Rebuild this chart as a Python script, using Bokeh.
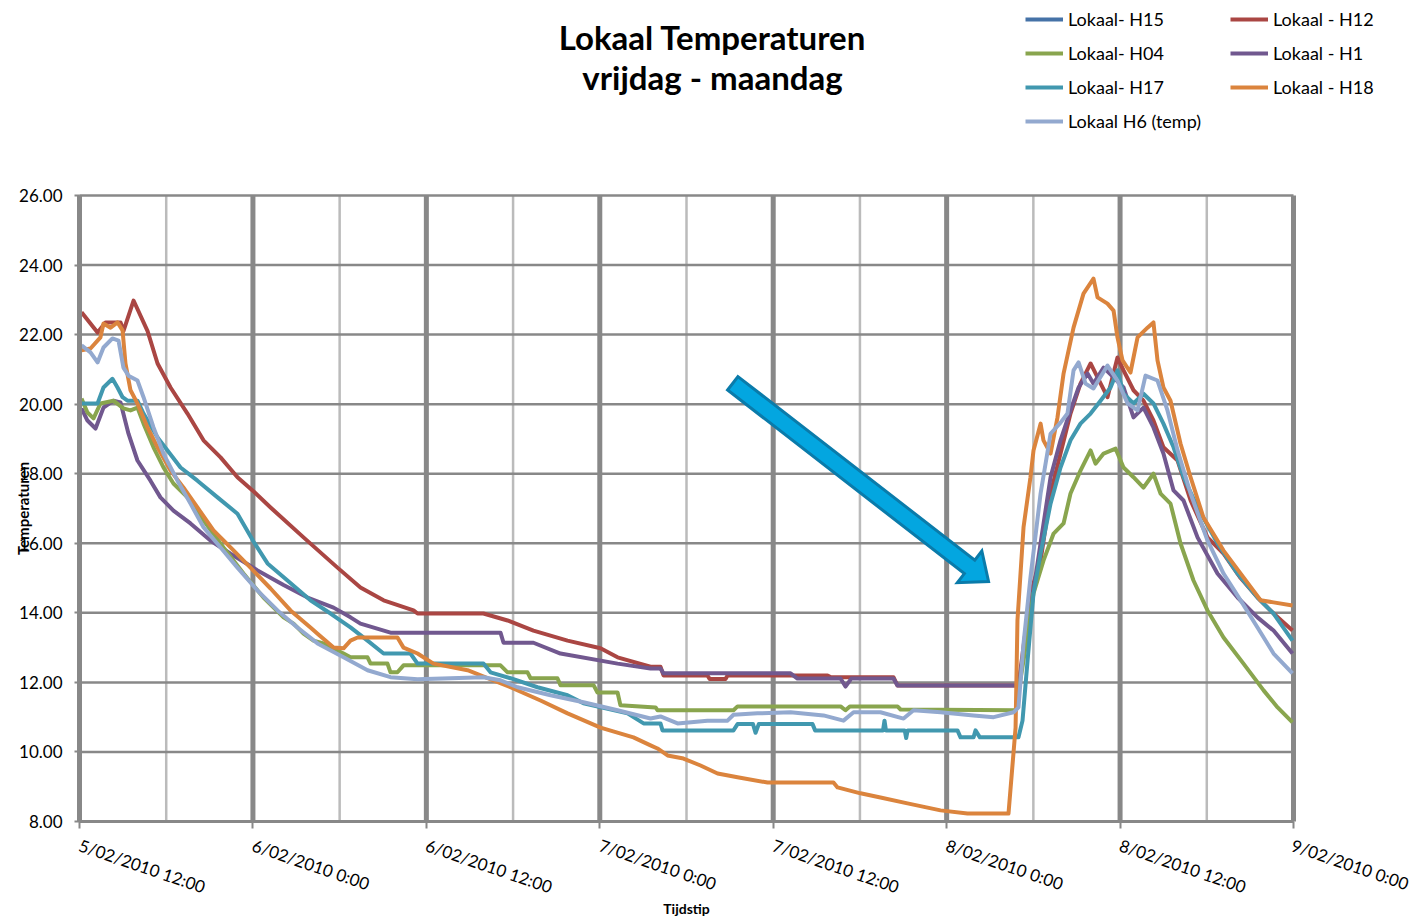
import math
from bokeh.plotting import figure
from bokeh.models import Range1d, FixedTicker, Label, Legend, LegendItem, NumeralTickFormatter
from bokeh.embed import file_html
from bokeh.resources import INLINE

# ---------------- data (x = hours since 5/02/2010 12:00) ----------------
TICK_HOURS = [0, 12, 24, 36, 48, 60, 72, 84]
TICK_LABELS = ["5/02/2010 12:00", "6/02/2010 0:00", "6/02/2010 12:00", "7/02/2010 0:00",
               "7/02/2010 12:00", "8/02/2010 0:00", "8/02/2010 12:00", "9/02/2010 0:00"]
MINOR_HOURS = [6, 18, 30, 42, 54, 66, 78]
Y_TICKS = [8, 10, 12, 14, 16, 18, 20, 22, 24, 26]

# H15 is listed in the legend but no line of it is visible in the chart
h15_t = [0.0]
h15_v = [float("nan")]

h12_t = [0.14, 1.25, 1.8, 2.84, 3.04, 3.74, 4.71, 5.4, 6.3, 7.47, 8.58, 9.76, 10.93, 11.97,
         13.22, 15.5, 17.85, 19.44, 21.04, 23.11, 23.39, 27.95, 29.62, 31.41, 33.77, 36.05,
         37.23, 39.51, 40.2, 40.41, 43.45, 43.6, 44.7, 44.84, 51.76, 52.0, 56.32, 56.6, 64.97,
         65.8, 66.5, 67.19, 67.88, 68.57, 69.26, 69.96, 70.44, 71.13, 71.82, 72.24, 72.93,
         73.62, 74.31, 75.0, 75.98, 76.88, 78.05, 79.16, 80.34, 81.51, 82.62, 83.93]
h12_v = [22.64, 22.06, 22.35, 22.35, 22.1, 22.98, 22.1, 21.17, 20.48, 19.73, 18.96, 18.47, 17.9, 17.52,
         17.03, 16.17, 15.3, 14.73, 14.36, 14.07, 13.98, 13.98, 13.78, 13.49, 13.2, 12.98,
         12.72, 12.45, 12.45, 12.2, 12.2, 12.1, 12.1, 12.2, 12.2, 12.15, 12.15, 11.91, 11.91,
         14.56, 15.5, 17.43, 18.58, 19.73, 20.59, 21.17, 20.77, 20.2, 21.34, 20.97, 20.4,
         20.1, 19.53, 18.76, 18.38, 17.23, 16.17, 15.7, 15.0, 14.44, 13.98, 13.49]

h04_t = [0.14, 0.55, 0.97, 1.45, 2.35, 3.04, 3.53, 4.01, 4.43, 5.12, 5.81, 6.5, 7.47, 8.58, 9.96,
         11.35, 12.73, 14.12, 14.81, 15.5, 16.19, 16.88, 18.27, 18.75, 19.93, 20.14, 21.31, 21.52,
         22.0, 22.42, 29.13, 29.62, 31.0, 31.21, 33.07, 33.28, 35.57, 35.84, 37.23, 37.43, 39.86,
         39.99, 45.25, 45.53, 52.66, 53.0, 53.3, 56.6, 56.81, 64.77, 65.32, 66.01, 66.7, 67.4,
         68.09, 68.57, 69.26, 69.96, 70.3, 70.86, 71.69, 72.24, 72.93, 73.62, 74.31, 74.8, 75.49,
         76.18, 77.08, 78.05, 79.16, 80.54, 81.93, 82.9, 83.93]
h04_v = [20.16, 19.76, 19.59, 20.02, 20.1, 19.88, 19.82, 19.9, 19.44, 18.76, 18.18, 17.72, 17.32, 16.66, 15.88,
         15.13, 14.44, 13.87, 13.69, 13.4, 13.2, 13.12, 12.83, 12.72, 12.72, 12.54, 12.54, 12.29,
         12.29, 12.49, 12.49, 12.29, 12.29, 12.12, 12.12, 11.92, 11.92, 11.71, 11.71, 11.34, 11.28,
         11.2, 11.2, 11.31, 11.31, 11.2, 11.31, 11.31, 11.22, 11.2, 12.63, 14.56, 15.5, 16.28,
         16.57, 17.43, 18.09, 18.67, 18.29, 18.58, 18.72, 18.18, 17.9, 17.6, 18.0, 17.43, 17.14,
         16.0, 14.93, 14.07, 13.29, 12.54, 11.77, 11.28, 10.85]

h1_t = [0.14, 0.55, 1.11, 1.66, 2.35, 2.84, 3.39, 4.01, 4.91, 5.6, 6.5, 7.68, 9.06, 10.45, 12.32,
        14.12, 15.78, 17.58, 18.75, 19.44, 21.52, 29.13, 29.34, 31.41, 33.28, 37.23, 39.51, 40.2,
        40.41, 49.2, 49.68, 52.66, 53.0, 53.4, 56.32, 56.6, 64.97, 65.8, 66.5, 67.19, 67.88,
        68.57, 69.13, 69.75, 70.16, 70.86, 71.55, 72.24, 72.93, 73.62, 74.31, 75.0, 75.7, 76.39,
        77.36, 78.74, 80.13, 81.51, 82.62, 83.93]
h1_v = [19.88, 19.53, 19.3, 19.9, 20.1, 20.05, 19.15, 18.38, 17.8, 17.32, 16.94, 16.57, 16.08, 15.7, 15.22,
        14.8, 14.44, 14.15, 13.87, 13.69, 13.43, 13.43, 13.14, 13.14, 12.83, 12.54, 12.4, 12.4,
        12.26, 12.26, 12.11, 12.11, 11.88, 12.11, 12.11, 11.91, 11.91, 14.07, 16.0, 17.9, 18.96,
        19.82, 20.48, 20.88, 20.59, 21.05, 20.77, 20.48, 19.62, 19.9, 19.33, 18.58, 17.52, 17.23,
        16.17, 15.13, 14.44, 13.87, 13.49, 12.83]

h17_t = [0.14, 1.25, 1.66, 2.28, 2.63, 2.98, 3.32, 4.01, 4.43, 5.4, 6.09, 6.99, 8.16, 9.55, 10.93,
         12.04, 13.01, 14.39, 15.98, 17.37, 18.75, 19.93, 21.04, 22.9, 23.39, 27.95, 28.44, 29.82,
         31.69, 33.77, 34.87, 37.92, 39.03, 40.2, 40.34, 45.25, 45.53, 46.6, 46.78, 47.0, 47.12,
         50.72, 50.9, 55.6, 55.7, 55.8, 57.1, 57.2, 57.3, 60.75, 60.96, 61.86, 62.0, 62.3, 64.97,
         65.25, 65.6, 66.01, 66.5, 67.19, 67.88, 68.57, 69.26, 69.96, 70.65, 71.34, 71.82, 72.24,
         72.93, 73.62, 74.31, 75.0, 75.7, 76.39, 77.36, 78.74, 80.13, 81.51, 82.62, 83.93]
h17_v = [20.02, 20.02, 20.48, 20.73, 20.48, 20.2, 20.1, 20.1, 19.73, 19.04, 18.67, 18.18, 17.8, 17.32, 16.85,
         16.05, 15.42, 14.93, 14.36, 13.98, 13.58, 13.2, 12.83, 12.83, 12.54, 12.54, 12.29, 12.12,
         11.86, 11.63, 11.4, 11.11, 10.82, 10.82, 10.62, 10.62, 10.8, 10.8, 10.55, 10.8, 10.8,
         10.8, 10.62, 10.62, 10.9, 10.62, 10.62, 10.4, 10.62, 10.62, 10.42, 10.42, 10.62, 10.42, 10.42,
         10.9, 12.63, 14.56, 15.7, 17.14, 18.18, 18.96, 19.44, 19.73, 20.1, 20.48, 20.97, 20.3,
         20.02, 20.3, 20.02, 19.44, 18.76, 17.9, 17.03, 16.0, 15.13, 14.44, 13.98, 13.2]

h18_t = [0.14, 0.76, 1.45, 1.66, 2.15, 2.63, 2.98, 3.18, 3.53, 4.01, 4.71, 5.4, 6.3, 7.2, 8.16, 9.27,
         10.45, 11.83, 13.22, 14.6, 15.98, 16.47, 17.58, 18.27, 18.75, 19.24, 22.0, 22.42, 23.39,
         24.49, 26.85, 29.82, 31.9, 33.77, 36.05, 38.33, 39.51, 39.99, 40.69, 41.79, 42.97, 44.15,
         45.53, 47.61, 52.17, 52.45, 54.04, 55.42, 57.29, 59.58, 61.44, 64.28, 64.77, 64.9, 65.32,
         65.8, 66.01, 66.5, 66.7, 67.19, 67.67, 68.09, 68.78, 69.47, 70.16, 70.44, 71.13, 71.55,
         71.82, 72.17, 72.72, 73.21, 73.9, 74.31, 74.59, 75.0, 75.49, 76.18, 76.88, 77.77, 79.16,
         80.54, 81.72, 82.62, 83.93]
h18_v = [21.55, 21.6, 21.92, 22.32, 22.2, 22.35, 22.12, 21.17, 20.4, 20.02, 19.33, 18.76, 18.09, 17.6, 17.03, 16.37,
         15.88, 15.3, 14.7, 14.07, 13.58, 13.4, 13.0, 12.98, 13.2, 13.29, 13.29, 13.0, 12.83,
         12.54, 12.35, 11.86, 11.48, 11.11, 10.7, 10.42, 10.19, 10.1, 9.9, 9.81, 9.61, 9.38,
         9.27, 9.12, 9.12, 8.98, 8.81, 8.69, 8.52, 8.32, 8.23, 8.23, 10.7, 13.78, 16.46,
         17.9, 18.67, 19.44, 18.96, 18.58, 19.62, 20.88, 22.2, 23.18, 23.61, 23.07, 22.89, 22.69,
         21.92, 21.26, 20.91, 21.92, 22.2, 22.35, 21.26, 20.48, 20.1, 18.87, 17.9, 16.74, 15.79,
         15.02, 14.36, 14.3, 14.21]

h6_t = [0.14, 0.76, 1.25, 1.66, 2.28, 2.7, 3.04, 3.39, 4.01, 4.43, 5.12, 5.81, 6.78, 7.68, 8.58, 9.76,
        10.93, 12.32, 13.7, 15.08, 16.47, 18.27, 19.93, 21.52, 23.39, 25.67, 27.95, 29.13, 30.31,
        32.59, 34.87, 37.23, 39.51, 40.2, 41.38, 43.45, 44.84, 45.25, 46.91, 49.2, 51.48, 52.86,
        53.56, 55.42, 57.02, 57.71, 59.58, 61.86, 63.25, 64.63, 64.97, 65.32, 65.8, 66.5, 67.19,
        67.88, 68.36, 68.78, 69.13, 69.61, 70.16, 71.13, 71.82, 72.52, 73.21, 73.76, 74.59, 75.28,
        75.98, 76.88, 78.05, 79.16, 80.34, 81.51, 82.62, 83.93]
h6_v = [21.69, 21.49, 21.2, 21.63, 21.89, 21.83, 21.05, 20.82, 20.68, 20.2, 19.33, 18.58, 17.8, 17.14, 16.46, 15.88,
        15.3, 14.64, 14.07, 13.58, 13.12, 12.72, 12.35, 12.15, 12.09, 12.12, 12.15, 12.06, 11.86,
        11.63, 11.43, 11.2, 10.96, 11.02, 10.82, 10.9, 10.9, 11.07, 11.11, 11.14, 11.05, 10.9,
        11.14, 11.14, 10.96, 11.2, 11.14, 11.05, 11.0, 11.14, 11.28, 13.12, 15.02, 17.43, 19.15,
        19.47, 19.73, 20.97, 21.2, 20.59, 20.45, 21.11, 20.68, 20.02, 19.82, 20.82, 20.68, 19.82,
        18.67, 17.43, 16.08, 15.13, 14.36, 13.58, 12.83, 12.26]

SERIES = [
    ("Lokaal- H15", "#4572A7", h15_t, h15_v),
    ("Lokaal - H12", "#AA4643", h12_t, h12_v),
    ("Lokaal- H04", "#89A54E", h04_t, h04_v),
    ("Lokaal - H1", "#71588F", h1_t, h1_v),
    ("Lokaal- H17", "#4198AF", h17_t, h17_v),
    ("Lokaal - H18", "#DB843D", h18_t, h18_v),
    ("Lokaal H6 (temp)", "#93A9CF", h6_t, h6_v),
]
DRAW_ORDER = ["Lokaal- H15", "Lokaal - H12", "Lokaal - H1", "Lokaal- H04", "Lokaal- H17",
              "Lokaal - H18", "Lokaal H6 (temp)"]

ARROW_TAIL = (45.2, 20.6)
ARROW_TIP = (62.9, 14.9)

# ---------------- geometry ----------------
X0, X1, Y0, Y1 = 0, 84, 8, 26
W, H = 1411, 918
CH_LEFT, CH_TOP, CH_RIGHT, CH_BOTTOM = 79, 195, 1293, 821   # chart area in page pixels
kx = (CH_RIGHT - CH_LEFT) / (X1 - X0)
ky = (CH_BOTTOM - CH_TOP) / (Y1 - Y0)
# the frame covers the whole page; axes are pinned to the chart area edges
XR = Range1d(X0 - CH_LEFT / kx, X0 + (W - CH_LEFT) / kx)
YR = Range1d(Y0 - (H - CH_BOTTOM) / ky, Y0 + CH_BOTTOM / ky)


def sx(px):  # page x -> screen units of the frame
    return px


def sy(py):  # page y -> screen units of the frame (from bottom)
    return H - py


FONT = "Lato"
p = figure(width=W, height=H, output_backend="svg", toolbar_location=None,
           x_range=XR, y_range=YR,
           min_border_left=0, min_border_right=0, min_border_top=0, min_border_bottom=0)
p.outline_line_color = None
p.background_fill_color = "white"
p.xgrid.visible = False
p.ygrid.visible = False

# axes
p.xaxis.fixed_location = Y0
p.xaxis.bounds = (X0, X1)
p.xaxis.ticker = FixedTicker(ticks=TICK_HOURS)
p.xaxis.major_label_overrides = {h: lab for h, lab in zip(TICK_HOURS, TICK_LABELS)}
p.xaxis.major_label_orientation = -0.33
p.xaxis.major_label_text_font = FONT
p.xaxis.major_label_text_font_size = "17px"
p.xaxis.major_label_text_color = "black"
p.xaxis.major_label_standoff = 16
p.xaxis.axis_line_color = "#888888"
p.xaxis.axis_line_width = 3
p.xaxis.major_tick_line_color = "#888888"
p.xaxis.major_tick_line_width = 2
p.xaxis.major_tick_out = 7
p.xaxis.major_tick_in = 0
p.xaxis.minor_tick_line_color = None

p.yaxis.fixed_location = X0
p.yaxis.bounds = (Y0, Y1)
p.yaxis.ticker = FixedTicker(ticks=Y_TICKS)
p.yaxis.formatter = NumeralTickFormatter(format="0.00")
p.yaxis.major_label_text_font = FONT
p.yaxis.major_label_text_font_size = "17px"
p.yaxis.major_label_text_color = "black"
p.yaxis.major_label_standoff = 12
p.yaxis.axis_line_color = "#888888"
p.yaxis.axis_line_width = 5
p.yaxis.major_tick_line_color = "#888888"
p.yaxis.major_tick_line_width = 2
p.yaxis.major_tick_out = 5
p.yaxis.major_tick_in = 0
p.yaxis.minor_tick_line_color = None

# grid lines (limited to the chart area)
p.segment(x0=MINOR_HOURS, x1=MINOR_HOURS, y0=[Y0] * len(MINOR_HOURS), y1=[Y1] * len(MINOR_HOURS),
          line_color="#BBBBBB", line_width=2.5, level="underlay")
p.segment(x0=[X0] * len(Y_TICKS), x1=[X1] * len(Y_TICKS), y0=Y_TICKS, y1=Y_TICKS,
          line_color="#888888", line_width=2.5, level="underlay")
p.segment(x0=TICK_HOURS, x1=TICK_HOURS, y0=[Y0] * len(TICK_HOURS), y1=[Y1] * len(TICK_HOURS),
          line_color="#888888", line_width=5, level="underlay")

# series lines
renderers = {}
lookup = {s[0]: s for s in SERIES}
for name in DRAW_ORDER:
    _, col, t, v = lookup[name]
    renderers[name] = p.line(t, v, line_color=col, line_width=4, line_join="round")

LEG_H = 4 * 32 + 3 * 2
legend = Legend(items=[LegendItem(label=s[0], renderers=[renderers[s[0]]]) for s in SERIES],
                orientation="horizontal", ncols=2,
                location=(sx(1025), sy(3 + LEG_H)), padding=0, margin=0, spacing=2,
                glyph_width=38, glyph_height=32, label_height=32, label_width=160,
                label_standoff=5, label_text_font=FONT, label_text_font_size="18px",
                label_text_color="black", border_line_color=None, background_fill_alpha=0)
p.add_layout(legend, "center")

# arrow (shape computed in pixel space from its data end points)
tx, ty = ARROW_TAIL[0] * kx, ARROW_TAIL[1] * ky
hx, hy = ARROW_TIP[0] * kx, ARROW_TIP[1] * ky
L = math.hypot(hx - tx, hy - ty)
ux, uy = (hx - tx) / L, (hy - ty) / L
nx, ny = -uy, ux
sw, hw, hl = 8.5, 20.0, 24.0
bx, by = hx - ux * hl, hy - uy * hl
pts = [(tx + nx * sw, ty + ny * sw), (bx + nx * sw, by + ny * sw), (bx + nx * hw, by + ny * hw),
       (hx, hy), (bx - nx * hw, by - ny * hw), (bx - nx * sw, by - ny * sw),
       (tx - nx * sw, ty - ny * sw)]
p.patch([q[0] / kx for q in pts], [q[1] / ky for q in pts], fill_color="#03A6E0",
        line_color="#0A7BAA", line_width=3, line_join="miter")


def text(txt, px, py, size, angle=0.0):
    p.add_layout(Label(x=sx(px), y=sy(py), x_units="screen", y_units="screen", text=txt,
                       angle=angle, text_align="center", text_baseline="middle", text_font=FONT,
                       text_font_style="bold", text_font_size=size, text_color="black"))


# chart title and axis titles
text("Lokaal Temperaturen", 712, 36, "33px")
text("vrijdag - maandag", 712, 76, "33px")
text("Temperaturen", 22, (CH_TOP + CH_BOTTOM) / 2.0, "15px", angle=math.pi / 2)
text("Tijdstip", (CH_LEFT + CH_RIGHT) / 2.0, 908, "14px")

open("out.html", "w").write(file_html(p, INLINE))
